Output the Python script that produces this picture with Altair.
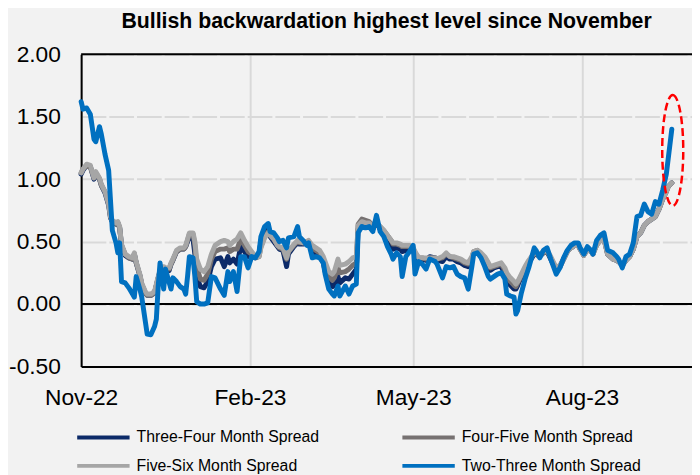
import altair as alt
import pandas as pd

# ---------------- data ----------------
dates = [
    "2022-11-01", "2022-11-02", "2022-11-04", "2022-11-06", "2022-11-08", "2022-11-09", "2022-11-11", "2022-11-12",
    "2022-11-14", "2022-11-16", "2022-11-17", "2022-11-18", "2022-11-20", "2022-11-21", "2022-11-22", "2022-11-23",
    "2022-11-25", "2022-11-27", "2022-11-29", "2022-11-30", "2022-12-01", "2022-12-03", "2022-12-04", "2022-12-06",
    "2022-12-07", "2022-12-09", "2022-12-11", "2022-12-12", "2022-12-13", "2022-12-14", "2022-12-15", "2022-12-16",
    "2022-12-17", "2022-12-19", "2022-12-20", "2022-12-21", "2022-12-23", "2022-12-25", "2022-12-27", "2022-12-28",
    "2022-12-29", "2022-12-30", "2023-01-01", "2023-01-02", "2023-01-03", "2023-01-05", "2023-01-07", "2023-01-09",
    "2023-01-11", "2023-01-13", "2023-01-16", "2023-01-18", "2023-01-20", "2023-01-21", "2023-01-23", "2023-01-25",
    "2023-01-27", "2023-01-29", "2023-01-31", "2023-02-02", "2023-02-04", "2023-02-06", "2023-02-07", "2023-02-09",
    "2023-02-11", "2023-02-12", "2023-02-14", "2023-02-16", "2023-02-17", "2023-02-19", "2023-02-21", "2023-02-22",
    "2023-02-25", "2023-02-27", "2023-02-28", "2023-03-02", "2023-03-04", "2023-03-05", "2023-03-07", "2023-03-09",
    "2023-03-11", "2023-03-13", "2023-03-14", "2023-03-16", "2023-03-18", "2023-03-19", "2023-03-21", "2023-03-22",
    "2023-03-25", "2023-03-27", "2023-03-29", "2023-03-31", "2023-04-01", "2023-04-03", "2023-04-05", "2023-04-07",
    "2023-04-09", "2023-04-11", "2023-04-13", "2023-04-15", "2023-04-17", "2023-04-19", "2023-04-20", "2023-04-22",
    "2023-04-24", "2023-04-25", "2023-04-27", "2023-04-29", "2023-05-01", "2023-05-02", "2023-05-04", "2023-05-06",
    "2023-05-08", "2023-05-10", "2023-05-13", "2023-05-14", "2023-05-17", "2023-05-19", "2023-05-21", "2023-05-23",
    "2023-05-25", "2023-05-27", "2023-05-29", "2023-05-31", "2023-06-02", "2023-06-03", "2023-06-05", "2023-06-07",
    "2023-06-09", "2023-06-11", "2023-06-12", "2023-06-14", "2023-06-16", "2023-06-18", "2023-06-20", "2023-06-21",
    "2023-06-23", "2023-06-25", "2023-06-26", "2023-06-27", "2023-06-29", "2023-07-01", "2023-07-03", "2023-07-06",
    "2023-07-07", "2023-07-09", "2023-07-11", "2023-07-13", "2023-07-15", "2023-07-17", "2023-07-18", "2023-07-20",
    "2023-07-22", "2023-07-24", "2023-07-26", "2023-07-28", "2023-07-30", "2023-07-31", "2023-08-02", "2023-08-04",
    "2023-08-06", "2023-08-07", "2023-08-09", "2023-08-11", "2023-08-13", "2023-08-15", "2023-08-18", "2023-08-20",
    "2023-08-21", "2023-08-23", "2023-08-25", "2023-08-27", "2023-08-29", "2023-08-31", "2023-09-02", "2023-09-04",
    "2023-09-06", "2023-09-08", "2023-09-10", "2023-09-12", "2023-09-14", "2023-09-16", "2023-09-17", "2023-09-19",
]

two_three = [
    1.62, 1.56, 1.57, 1.52, 1.32, 1.30, 1.42, 1.36, 1.20, 1.07, 0.83, 0.59, 0.49, 0.41, 0.49, 0.18,
    0.17, 0.13, 0.08, 0.055, 0.22, 0.12, 0.06, -0.14, -0.24, -0.245, -0.18, -0.12, 0.14, 0.33, 0.22, 0.12,
    0.28, 0.17, 0.12, 0.21, 0.18, 0.14, 0.12, 0.08, 0.22, 0.38, 0.37, 0.22, 0.02, 0.00, 0.00, 0.01,
    0.22, 0.21, 0.12, 0.07, 0.26, 0.18, 0.26, 0.10, 0.38, 0.38, 0.29, 0.38, 0.37, 0.42, 0.54, 0.62,
    0.645, 0.58, 0.57, 0.53, 0.50, 0.51, 0.45, 0.53, 0.54, 0.62, 0.54, 0.51, 0.47, 0.49, 0.37, 0.38,
    0.37, 0.33, 0.24, 0.12, 0.08, 0.065, 0.145, 0.065, 0.145, 0.08, 0.145, 0.16, 0.57, 0.62, 0.61, 0.62,
    0.58, 0.71, 0.58, 0.54, 0.46, 0.40, 0.36, 0.41, 0.38, 0.22, 0.38, 0.42, 0.47, 0.24, 0.34, 0.32,
    0.28, 0.36, 0.34, 0.32, 0.21, 0.30, 0.29, 0.30, 0.24, 0.22, 0.21, 0.12, 0.30, 0.40, 0.41, 0.37,
    0.30, 0.22, 0.20, 0.22, 0.24, 0.25, 0.20, 0.08, 0.065, 0.055, -0.08, -0.05, 0.09, 0.20, 0.29, 0.45,
    0.43, 0.37, 0.43, 0.45, 0.36, 0.28, 0.24, 0.29, 0.37, 0.43, 0.47, 0.49, 0.49, 0.45, 0.40, 0.46,
    0.43, 0.40, 0.51, 0.55, 0.57, 0.43, 0.41, 0.38, 0.36, 0.29, 0.38, 0.40, 0.49, 0.70, 0.71, 0.80,
    0.74, 0.72, 0.82, 0.80, 0.91, 1.04, 1.16, 1.40,
]

five_six = [
    1.05, 1.08, 1.12, 1.11, 1.01, 1.06, 1.01, 0.96, 0.90, 0.80, 0.70, 0.67, 0.65, 0.66, 0.62, 0.48,
    0.40, 0.38, 0.37, 0.41, 0.34, 0.24, 0.17, 0.10, 0.08, 0.08, 0.10, 0.16, 0.22, 0.27, 0.30, 0.30,
    0.29, 0.29, 0.33, 0.36, 0.43, 0.45, 0.45, 0.47, 0.52, 0.57, 0.57, 0.50, 0.36, 0.28, 0.26, 0.30,
    0.40, 0.47, 0.50, 0.51, 0.50, 0.47, 0.50, 0.52, 0.57, 0.51, 0.46, 0.42, 0.38, 0.38, 0.45, 0.53,
    0.57, 0.55, 0.52, 0.47, 0.46, 0.45, 0.37, 0.42, 0.48, 0.51, 0.50, 0.49, 0.50, 0.51, 0.47, 0.45,
    0.43, 0.38, 0.34, 0.26, 0.24, 0.26, 0.36, 0.31, 0.32, 0.34, 0.37, 0.38, 0.63, 0.66, 0.65, 0.65,
    0.62, 0.65, 0.62, 0.59, 0.55, 0.51, 0.49, 0.49, 0.48, 0.47, 0.47, 0.47, 0.45, 0.42, 0.37, 0.37,
    0.37, 0.37, 0.37, 0.36, 0.38, 0.41, 0.38, 0.38, 0.37, 0.36, 0.34, 0.33, 0.38, 0.42, 0.43, 0.41,
    0.38, 0.33, 0.30, 0.31, 0.32, 0.33, 0.29, 0.25, 0.21, 0.18, 0.16, 0.18, 0.24, 0.30, 0.35, 0.41,
    0.41, 0.40, 0.42, 0.43, 0.38, 0.32, 0.29, 0.31, 0.36, 0.42, 0.45, 0.47, 0.47, 0.44, 0.39, 0.44,
    0.42, 0.40, 0.47, 0.51, 0.52, 0.40, 0.36, 0.35, 0.34, 0.31, 0.35, 0.38, 0.44, 0.54, 0.57, 0.63,
    0.66, 0.68, 0.70, 0.76, 0.84, 0.90, 0.94, 0.97,
]

four_five = [
    1.05, 1.08, 1.11, 1.10, 1.01, 1.05, 1.00, 0.95, 0.90, 0.80, 0.70, 0.66, 0.64, 0.65, 0.61, 0.47,
    0.40, 0.37, 0.36, 0.40, 0.33, 0.23, 0.16, 0.09, 0.07, 0.07, 0.09, 0.15, 0.21, 0.26, 0.29, 0.29,
    0.28, 0.28, 0.32, 0.35, 0.42, 0.44, 0.44, 0.46, 0.51, 0.56, 0.56, 0.47, 0.30, 0.20, 0.19, 0.24,
    0.36, 0.42, 0.44, 0.44, 0.45, 0.42, 0.44, 0.44, 0.52, 0.47, 0.42, 0.40, 0.37, 0.38, 0.46, 0.54,
    0.58, 0.55, 0.52, 0.47, 0.45, 0.44, 0.36, 0.42, 0.47, 0.50, 0.49, 0.49, 0.50, 0.50, 0.45, 0.43,
    0.41, 0.36, 0.30, 0.22, 0.19, 0.21, 0.29, 0.25, 0.26, 0.28, 0.31, 0.33, 0.64, 0.68, 0.67, 0.66,
    0.63, 0.65, 0.62, 0.59, 0.55, 0.51, 0.48, 0.48, 0.47, 0.46, 0.46, 0.46, 0.45, 0.41, 0.37, 0.37,
    0.36, 0.37, 0.37, 0.36, 0.37, 0.40, 0.38, 0.37, 0.36, 0.35, 0.33, 0.32, 0.37, 0.42, 0.43, 0.40,
    0.37, 0.32, 0.29, 0.30, 0.31, 0.32, 0.27, 0.22, 0.18, 0.15, 0.14, 0.17, 0.23, 0.29, 0.34, 0.41,
    0.40, 0.39, 0.41, 0.42, 0.37, 0.31, 0.28, 0.30, 0.36, 0.42, 0.45, 0.47, 0.47, 0.44, 0.39, 0.44,
    0.42, 0.40, 0.47, 0.51, 0.52, 0.40, 0.36, 0.35, 0.34, 0.31, 0.35, 0.38, 0.44, 0.54, 0.57, 0.63,
    0.66, 0.68, 0.70, 0.76, 0.84, 0.90, 0.94, 0.97,
]

three_four = [
    1.04, 1.07, 1.11, 1.10, 1.00, 1.05, 1.00, 0.95, 0.89, 0.79, 0.69, 0.66, 0.64, 0.65, 0.61, 0.47,
    0.39, 0.37, 0.36, 0.40, 0.33, 0.23, 0.16, 0.09, 0.07, 0.07, 0.09, 0.15, 0.21, 0.26, 0.29, 0.28,
    0.28, 0.27, 0.32, 0.35, 0.42, 0.44, 0.44, 0.46, 0.50, 0.54, 0.52, 0.40, 0.22, 0.14, 0.13, 0.18,
    0.30, 0.36, 0.37, 0.30, 0.38, 0.33, 0.36, 0.32, 0.46, 0.42, 0.38, 0.38, 0.37, 0.40, 0.50, 0.57,
    0.60, 0.54, 0.50, 0.46, 0.44, 0.43, 0.30, 0.40, 0.46, 0.49, 0.48, 0.48, 0.49, 0.49, 0.43, 0.41,
    0.39, 0.33, 0.26, 0.17, 0.14, 0.15, 0.22, 0.17, 0.21, 0.20, 0.24, 0.28, 0.60, 0.64, 0.63, 0.63,
    0.60, 0.66, 0.60, 0.57, 0.52, 0.47, 0.44, 0.45, 0.44, 0.42, 0.43, 0.44, 0.44, 0.38, 0.36, 0.36,
    0.35, 0.38, 0.37, 0.35, 0.34, 0.38, 0.36, 0.36, 0.34, 0.33, 0.31, 0.30, 0.36, 0.41, 0.42, 0.39,
    0.35, 0.30, 0.27, 0.29, 0.30, 0.30, 0.24, 0.18, 0.15, 0.12, 0.12, 0.15, 0.22, 0.28, 0.33, 0.40,
    0.40, 0.38, 0.41, 0.42, 0.36, 0.30, 0.27, 0.30, 0.36, 0.42, 0.45, 0.47, 0.47, 0.44, 0.39, 0.44,
    0.42, 0.40, 0.48, 0.52, 0.53, 0.40, 0.36, 0.35, 0.34, 0.31, 0.35, 0.38, 0.44, 0.54, 0.57, 0.63,
    0.66, 0.68, 0.70, 0.76, 0.84, 0.90, 0.94, 0.97,
]

# drawing order: first drawn = bottom
series_names = [
    "Three-Four Month Spread",
    "Four-Five Month Spread",
    "Five-Six Month Spread",
    "Two-Three Month Spread",
]
series_colors = ["#0c2a68", "#767171", "#a6a6a6", "#0070c0"]
# legend order (legend fills column by column)
legend_order = [
    "Three-Four Month Spread",
    "Five-Six Month Spread",
    "Four-Five Month Spread",
    "Two-Three Month Spread",
]

border_levels = [0.0, 2.0]
y_ticks = [-0.5, 0.0, 0.5, 1.0, 1.5, 2.0]

ann_date = ["2023-09-19T12:00:00"]
ann_value = [1.23]

# ---------------- tables ----------------
rows = []
for name, vals in zip(series_names, [three_four, four_five, five_six, two_three]):
    for d, v in zip(dates, vals):
        rows.append({"date": d, "series": name, "value": v})
df = pd.DataFrame(rows)
df["date"] = pd.to_datetime(df["date"])

ann_df = pd.DataFrame({"date": pd.to_datetime(ann_date), "value": ann_value})
border_df = pd.DataFrame({"level": border_levels})

color_of = dict(zip(series_names, series_colors))

FONT = "Liberation Sans"

x_enc = alt.X(
    "date:T",
    scale=alt.Scale(domain=[alt.DateTime(year=2022, month=11, date=1),
                            alt.DateTime(year=2023, month=9, date=30)]),
    axis=alt.Axis(
        title=None,
        values=[alt.DateTime(year=2022, month=11, date=1),
                alt.DateTime(year=2023, month=2, date=1),
                alt.DateTime(year=2023, month=5, date=1),
                alt.DateTime(year=2023, month=8, date=1)],
        format="%b-%y",
        labelFont=FONT, labelFontSize=23, labelColor="#000000",
        labelPadding=20, labelFlush=False, labelOverlap=False,
        ticks=False, domain=True, domainColor="#000000", domainWidth=2,
        grid=True, gridColor="#d9d9d9", gridWidth=2,
    ),
)

y_scale = alt.Scale(domain=[-0.5, 2.0], nice=False, zero=False)
y_enc = alt.Y(
    "value:Q",
    scale=y_scale,
    axis=alt.Axis(
        title=None,
        values=y_ticks,
        labelExpr="datum.value < 0 ? '-' + format(-datum.value, '.2f') : format(datum.value, '.2f')",
        labelFont=FONT, labelFontSize=23, labelColor="#000000", labelPadding=21,
        ticks=False, domain=True, domainColor="#000000", domainWidth=2,
        grid=True, gridColor="#d9d9d9", gridWidth=2, gridDash=[25, 3],
    ),
)

# wide line symbol: path spans -2..2, i.e. twice the nominal symbol width
LEGEND_LINE = "M -2 0 H 2"
color_enc = alt.Color(
    "series:N",
    scale=alt.Scale(domain=legend_order, range=[color_of[n] for n in legend_order]),
    legend=alt.Legend(
        title=None, orient="none", legendX=7, legendY=372,
        columns=2, columnPadding=76, rowPadding=5,
        symbolType=LEGEND_LINE, symbolSize=702, symbolStrokeWidth=4,
        labelFont=FONT, labelFontSize=16, labelColor="#000000",
        labelLimit=300, labelOffset=18, padding=0,
    ),
)

zero_rule = alt.Chart(border_df).mark_rule(color="#000000", strokeWidth=2).encode(
    y=alt.Y("level:Q", scale=y_scale)
)

line_layers = []
for name in series_names:
    line_layers.append(
        alt.Chart(df)
        .transform_filter(alt.datum.series == name)
        .mark_line(strokeWidth=5, strokeJoin="round", strokeCap="round")
        .encode(x=x_enc, y=y_enc, color=color_enc)
    )

ELLIPSE = "M 0 -1 A 0.19 1 0 1 1 0 1 A 0.19 1 0 1 1 0 -1 Z"
ellipse = alt.Chart(ann_df).mark_point(
    shape=ELLIPSE, size=12544, filled=False, stroke="#ff0000",
    strokeWidth=2.5, strokeDash=[8, 4], opacity=1,
).encode(x=alt.X("date:T"), y=alt.Y("value:Q"))

chart = alt.layer(zero_rule, *line_layers, ellipse).properties(
    width=618,
    height=316,
    background="#f2f2f2",
    title=alt.TitleParams(
        "Bullish backwardation highest level since November",
        font=FONT, fontSize=21.5, fontWeight="bold", color="#000000",
        anchor="middle", frame="group", offset=11,
    ),
    autosize=alt.AutoSizeParams(type="none"),
    padding={"left": 74, "top": 44, "right": 0, "bottom": 110},
).configure_view(stroke=None)

chart.save("out.html", embed_options={"renderer": "svg", "actions": False})
